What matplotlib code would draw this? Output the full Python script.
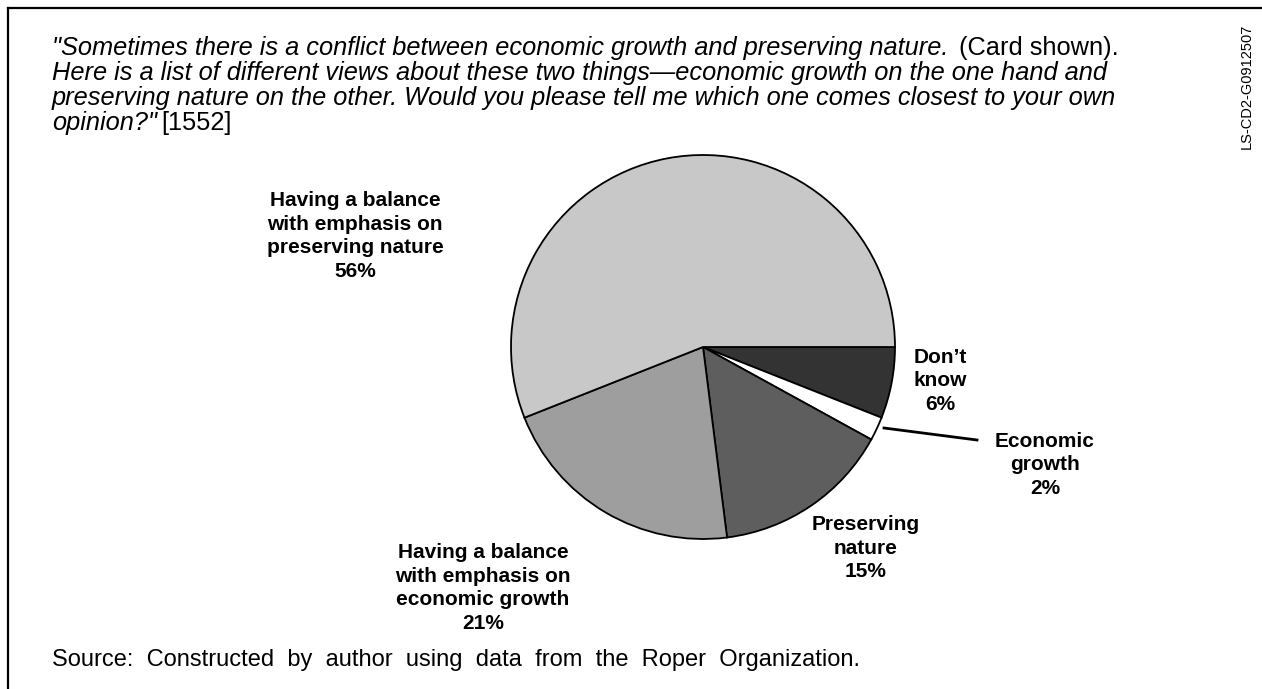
import matplotlib
matplotlib.use("Agg")
import matplotlib.pyplot as plt

# survey data (Roper)
categories = ["Don\u2019t\nknow", "Economic\ngrowth", "Preserving\nnature",
              "Having a balance\nwith emphasis on\neconomic growth",
              "Having a balance\nwith emphasis on\npreserving nature"]
shares = [6, 2, 15, 21, 56]
slice_colors = ["#333333", "#ffffff", "#5e5e5e", "#9e9e9e", "#c8c8c8"]

title_lines = [
    ('"Sometimes there is a conflict between economic growth and preserving nature.', " (Card shown)."),
    ("Here is a list of different views about these two things\u2014economic growth on the one hand and", ""),
    ("preserving nature on the other. Would you please tell me which one comes closest to your own", ""),
    ('opinion?"', "[1552]"),
]
source_text = "Source:  Constructed  by  author  using  data  from  the  Roper  Organization."
side_code = "LS-CD2-G0912507"

W, H = 1262, 689
plt.rcParams["font.family"] = ["Liberation Sans", "DejaVu Sans"]

fig = plt.figure(figsize=(W / 100, H / 100), dpi=100)
ax = fig.add_axes([0, 0, 1, 1])

# pie in pixel coords; y axis is flipped below, so counterclock=True shows clockwise
ax.pie(shares, colors=slice_colors, startangle=0, counterclock=True,
       center=(703, 347), radius=192,
       wedgeprops=dict(edgecolor="black", linewidth=1.3))
ax.set_xlim(0, W)
ax.set_ylim(H, 0)
ax.set_aspect("auto")
ax.axis("off")

# frame lines (top and left)
ax.plot([8, W], [8, 8], color="black", lw=1.6)
ax.plot([8, 8], [8, H], color="black", lw=1.6)

# question text, italic with a plain tail
renderer = fig.canvas.get_renderer()
line_y = [55, 80, 105, 130]
for (ital, plain), y in zip(title_lines, line_y):
    t = ax.text(52, y, ital, fontsize=18.3, style="italic", va="baseline", ha="left")
    if plain:
        bb = t.get_window_extent(renderer=renderer)
        x_end = ax.transData.inverted().transform((bb.x1, bb.y0))[0]
        ax.text(x_end + 4, y, plain, fontsize=18.3, va="baseline", ha="left")

# slice labels
label_pos = [(940, 381), (1045, 465), (866, 548), (483, 588), (355, 236)]
for name, pct, (x, y) in zip(categories, shares, label_pos):
    ax.text(x, y, f"{name}\n{pct}%", fontsize=15, fontweight="bold",
            ha="center", va="center", multialignment="center", linespacing=1.3)

# leader for the small slice
ax.plot([884, 977], [428, 440], color="black", lw=2)

ax.text(52, 660, source_text, fontsize=17, ha="left", va="center")
ax.text(1247, 86, side_code, fontsize=10.5, rotation=90, ha="center", va="center")

fig.savefig("out.png", dpi=100)
